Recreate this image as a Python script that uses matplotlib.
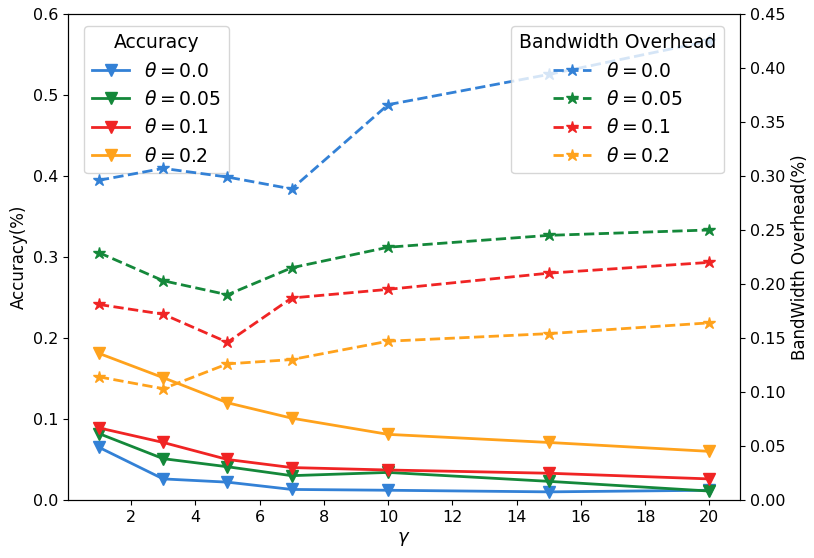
import numpy as np
import matplotlib
matplotlib.use('Agg')
import matplotlib.pyplot as plt

# 데이터
gamma = [1, 3, 5, 7, 10, 15, 20]
thetas = ['0.0', '0.05', '0.1', '0.2']

acc_00 = [0.065, 0.026, 0.022, 0.013, 0.012, 0.010, 0.012]
acc_05 = [0.082, 0.051, 0.041, 0.030, 0.034, 0.023, 0.011]
acc_10 = [0.089, 0.071, 0.050, 0.040, 0.037, 0.033, 0.026]
acc_20 = [0.181, 0.151, 0.120, 0.101, 0.081, 0.071, 0.060]

bw_00 = [0.296, 0.307, 0.299, 0.288, 0.366, 0.394, 0.425]
bw_05 = [0.229, 0.203, 0.190, 0.215, 0.234, 0.245, 0.250]
bw_10 = [0.181, 0.172, 0.146, 0.187, 0.195, 0.210, 0.220]
bw_20 = [0.114, 0.103, 0.126, 0.130, 0.147, 0.154, 0.164]

colors = ['#3381d6', '#14883a', '#f02424', '#ffa21c']

fig = plt.figure(figsize=(8.14, 5.58), dpi=100)
ax1 = fig.add_axes([0.084, 0.104, 0.825, 0.871])
ax2 = ax1.twinx()

# 정확도 (실선)
for acc, th, c in zip([acc_00, acc_05, acc_10, acc_20], thetas, colors):
    ax1.plot(gamma, acc, '-v', color=c, markersize=8, linewidth=2,
             label=r'$\theta=%s$' % th)

# 대역폭 (점선)
for bw, th, c in zip([bw_00, bw_05, bw_10, bw_20], thetas, colors):
    ax2.plot(gamma, bw, '--*', color=c, markersize=9, linewidth=2,
             label=r'$\theta=%s$' % th)

ax1.set_ylim(0, 0.6)
ax2.set_ylim(0, 0.45)
ax1.set_xticks([2, 4, 6, 8, 10, 12, 14, 16, 18, 20])
ax2.set_yticks(np.arange(0, 0.46, 0.05))
ax2.set_yticklabels(['%.2f' % v for v in np.arange(0, 0.46, 0.05)])

ax1.set_xlabel(r'$\gamma$', fontsize=13)
ax1.set_ylabel('Accuracy(%)', fontsize=12)
ax2.set_ylabel('BandWidth Overhead(%)', fontsize=12)
ax1.tick_params(labelsize=11.5)
ax2.tick_params(labelsize=11.5)

leg1 = ax1.legend(loc='upper left', title='Accuracy', fontsize=13.5,
                  title_fontsize=13.5, bbox_to_anchor=(0.01, 0.995))
leg2 = ax2.legend(loc='upper right', title='Bandwidth Overhead', fontsize=13.5,
                  title_fontsize=13.5, bbox_to_anchor=(0.99, 0.995))

fig.savefig('out.png')
